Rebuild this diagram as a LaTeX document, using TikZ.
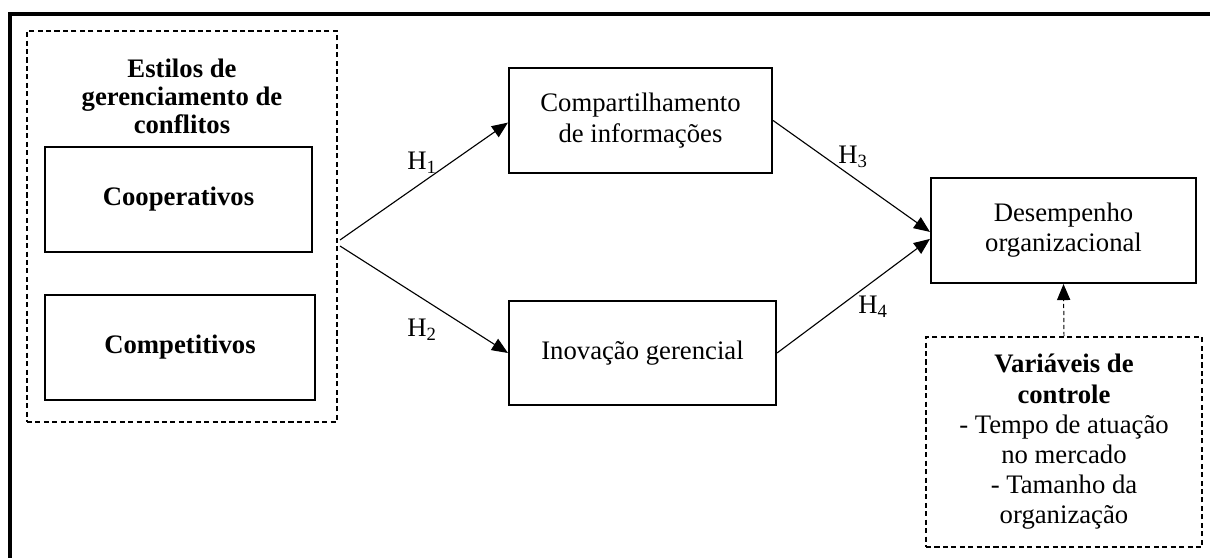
\documentclass[tikz,border=0pt]{standalone}
\usepackage{fontspec}
\setmainfont{Liberation Serif}
\usetikzlibrary{arrows.meta,positioning}

\begin{document}
\begin{tikzpicture}[>={Triangle[length=4mm,width=3.3mm]},
 font=\fontsize{19}{21.5}\selectfont,
 box/.style={draw,line width=1.5pt,minimum height=2.625cm,align=center},
 dbox/.style={draw,line width=1.2pt,dash pattern=on 3.6pt off 2.4pt,align=center},
 conn/.style={line width=0.8pt,->}]
\clip (0,0) rectangle (30.25,13.95);
\draw[line width=2.4pt] (0.25,-1) rectangle (31,13.6);
\node[dbox,minimum width=7.75cm,minimum height=9.775cm] (estilos) at (4.55,8.2875) {};
\node[font=\fontsize{19}{20}\selectfont\bfseries,align=center] (titulo) at (4.55,11.55) {Estilos de\\gerenciamento de\\conflitos};
\node[box,minimum width=6.675cm,font=\fontsize{19}{21.5}\selectfont\bfseries] (coop) at (4.4625,8.9625) {Cooperativos};
\node[box,minimum width=6.75cm,font=\fontsize{19}{21.5}\selectfont\bfseries] (compet) at (4.5,5.2625) {Competitivos};
\node[box,minimum width=6.575cm] (info) at (16.0125,10.9375) {Compartilhamento\\de informações};
\node[box,minimum width=6.675cm,minimum height=2.6cm] (inov) at (16.0625,5.125) {Inovação gerencial};
\node[box,minimum width=6.625cm] (desemp) at (26.5875,8.1875) {Desempenho\\organizacional};
\node[dbox,minimum width=6.9cm,minimum height=5.25cm] (controle) at (26.6,2.9) {\textbf{Variáveis de}\\\textbf{controle}\\- Tempo de atuação\\no mercado\\- Tamanho da\\organização};
% connectors
\coordinate (o1) at (8.5,7.95);
\coordinate (o2) at (8.5,7.8);
\draw[conn] (o1) -- ([yshift=-1.5pt]info.west);
\draw[conn] (o2) -- (inov.west);
\draw[conn] (info.east) -- ([yshift=-1pt]desemp.west);
\draw[conn] (inov.east) -- ([yshift=-6pt]desemp.west);
\draw[conn,line width=0.7pt,dash pattern=on 3pt off 2pt] (controle.north) -- (desemp.south);
% labels
\node (h1) at (10.55,9.875) {H\textsubscript{1}};
\node (h2) at (10.55,5.7) {H\textsubscript{2}};
\node (h3) at (21.325,10.025) {H\textsubscript{3}};
\node (h4) at (21.825,6.275) {H\textsubscript{4}};
\end{tikzpicture}
\end{document}
